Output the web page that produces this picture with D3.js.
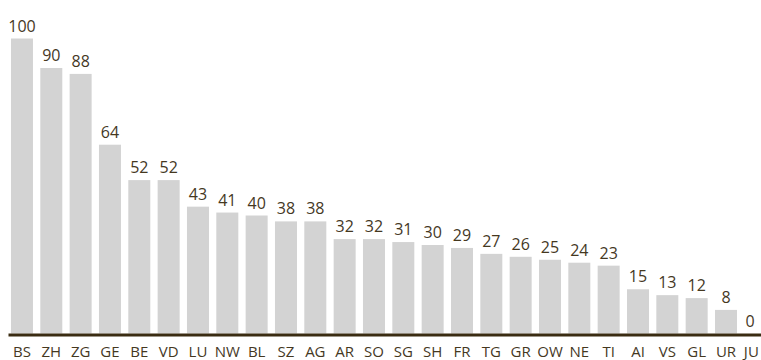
<!DOCTYPE html>
<html>
<head>
<meta charset="utf-8">
<script src="https://cdn.jsdelivr.net/npm/d3@7"></script>
<style>
  html, body { margin: 0; padding: 0; background: #fff; }
  svg { display: block; }
</style>
</head>
<body>
<div id="chart"></div>
<script>
// cantons, sorted by value
const cantons = ["BS","ZH","ZG","GE","BE","VD","LU","NW","BL","SZ","AG","AR","SO","SG","SH","FR","TG","GR","OW","NE","TI","AI","VS","GL","UR","JU"]
const values  = [100, 90, 88, 64, 52, 52, 43, 41, 40, 38, 38, 32, 32, 31, 30, 29, 27, 26, 25, 24, 23, 15, 13, 12, 8, 0]

const width = 761
const height = 360
const base = 333.5
const textColor = "#45381f"
const fontFamily = '"Open Sans", sans-serif'

const data = cantons.map((c, i) => ({ canton: c, value: values[i] }))

const x = d3.scaleBand()
  .domain(cantons)
  .range([7.3, 770])
  .paddingInner(0.25)
  .paddingOuter(0.125)

const y = d3.scaleLinear()
  .domain([0, 100])
  .range([base, 38.5])

const svg = d3.select("#chart").append("svg")
  .attr("width", width)
  .attr("height", height)

svg.append("g")
  .selectAll("rect")
  .data(data)
  .join("rect")
  .attr("x", d => x(d.canton))
  .attr("y", d => y(d.value))
  .attr("width", x.bandwidth())
  .attr("height", d => y(0) - y(d.value))
  .attr("fill", "#d3d3d3")

// value labels
svg.append("g")
  .selectAll("text")
  .data(data)
  .join("text")
  .attr("x", d => Math.min(x(d.canton) + x.bandwidth() / 2, width - 11))
  .attr("y", d => y(d.value) - 7)
  .attr("text-anchor", "middle")
  .attr("fill", textColor)
  .style("font-family", fontFamily)
  .style("font-size", "16px")
  .text(d => d.value)

// baseline
svg.append("line")
  .attr("x1", 8.5)
  .attr("x2", width)
  .attr("y1", base + 1.5)
  .attr("y2", base + 1.5)
  .attr("stroke", "#3a2c12")
  .attr("stroke-width", 3)

// category axis
const xAxis = g => g
  .attr("transform", `translate(0,${base + 3})`)
  .call(d3.axisBottom(x).tickSize(0).tickPadding(10))
  .call(g => g.select(".domain").remove())
  .call(g => g.selectAll(".tick text")
    .attr("fill", textColor)
    .style("font-family", fontFamily)
    .style("font-size", "15px"))

svg.append("g").call(xAxis)

// keep last label inside the frame
svg.selectAll(".tick").filter(d => d === "JU")
  .select("text").attr("dx", -4)
</script>
</body>
</html>
